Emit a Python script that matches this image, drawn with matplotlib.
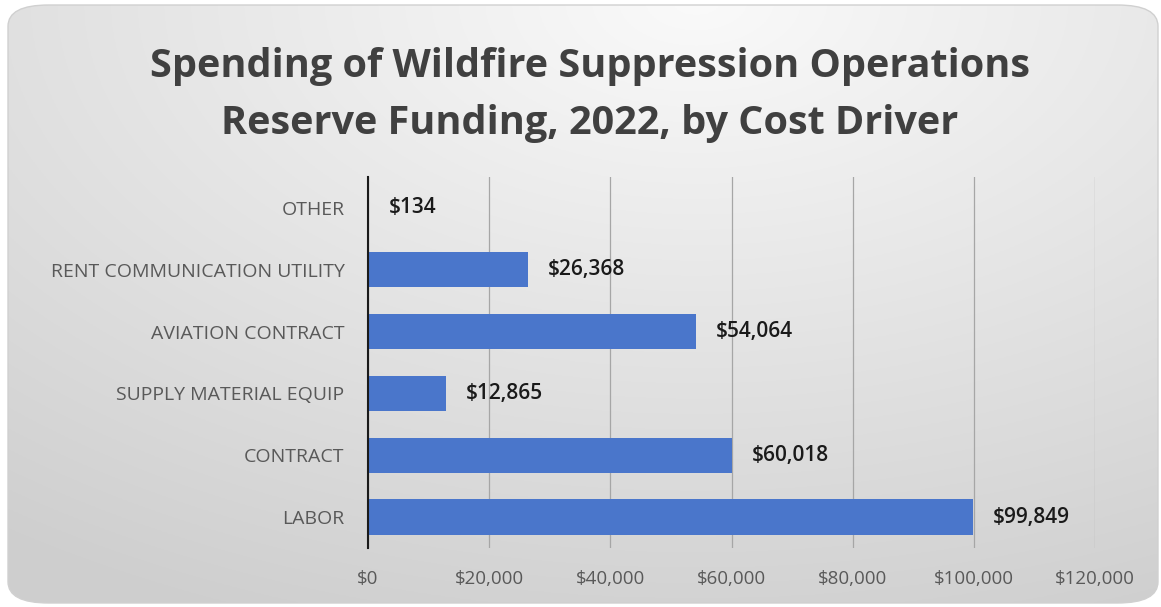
import numpy as np
import matplotlib.pyplot as plt
from matplotlib.patches import FancyBboxPatch
from matplotlib.ticker import FuncFormatter

categories = ['LABOR', 'CONTRACT', 'SUPPLY MATERIAL EQUIP', 'AVIATION CONTRACT',
              'RENT COMMUNICATION UTILITY', 'OTHER']
values = [99849, 60018, 12865, 54064, 26368, 134]
title = 'Spending of Wildfire Suppression Operations\nReserve Funding, 2022, by Cost Driver'

plt.rcParams['font.family'] = ['Open Sans', 'DejaVu Sans']

fig = plt.figure(figsize=(11.61, 6.07), dpi=100)
fig.patch.set_facecolor('white')

# gradient background in a rounded box
bg = fig.add_axes([0, 0, 1, 1], zorder=0)
bg.set_xlim(0, 1)
bg.set_ylim(0, 1)
bg.axis('off')
yy, xx = np.mgrid[0:1:300j, 0:1:600j]
dist = np.sqrt(((xx - 0.6) * 1.1) ** 2 + ((yy - 1.0) * 1.0) ** 2)
shade = 0.98 - 0.17 * np.clip(dist / 1.1, 0, 1)
img = bg.imshow(np.dstack([shade] * 3), extent=[0, 1, 1, 0], aspect='auto')
box = FancyBboxPatch((8 / 1161, 4 / 607), 1150 / 1161, 598 / 607,
                     boxstyle='round,pad=0,rounding_size=0.035',
                     transform=bg.transAxes, facecolor='none', edgecolor='#d0d0d0', lw=1)
bg.add_patch(box)
img.set_clip_path(box)

fig.text(0.508, 0.843, title, ha='center', va='center', fontsize=28.5,
         fontweight='bold', color='#404040', linespacing=1.6)

ax = fig.add_axes([368 / 1161, 1 - 548 / 607, (1095 - 368) / 1161, (548 - 177) / 607], zorder=1)
ax.patch.set_alpha(0)
y = np.arange(len(categories))
bars = ax.barh(y, values, height=0.57, color='#4A76CB', zorder=2)
for b, v in zip(bars, values):
    ax.text(v + 3300, b.get_y() + b.get_height() / 2, f'${v:,}', va='center', ha='left',
            fontsize=15, color='#1a1a1a', fontweight='semibold')

ax.set_xlim(0, 120000)
ax.set_ylim(-0.5, len(categories) - 0.5)
ax.set_xticks(np.arange(0, 120001, 20000))
ax.xaxis.set_major_formatter(FuncFormatter(lambda v, p: f'${v:,.0f}'))
ax.set_yticks(y)
ax.set_yticklabels(categories)
ax.grid(axis='x', color='#a6a6a6', lw=0.9, zorder=0)
for s in ['top', 'right', 'bottom']:
    ax.spines[s].set_visible(False)
ax.spines['left'].set_color('#1a1a1a')
ax.spines['left'].set_linewidth(1.5)
ax.tick_params(axis='x', length=0, pad=16, labelsize=13.5, labelcolor='#595959')
ax.tick_params(axis='y', length=0, pad=17, labelsize=14, labelcolor='#595959')

fig.savefig('out.png', dpi=100)
